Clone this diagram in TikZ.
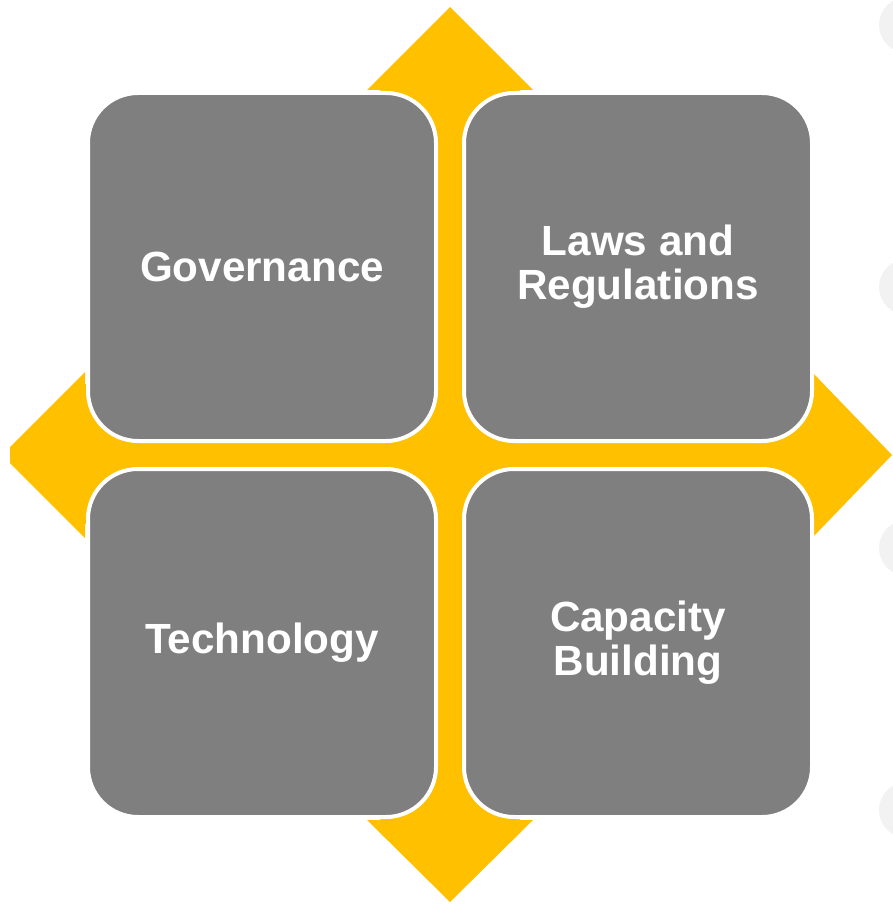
\documentclass[tikz,border=0pt]{standalone}
\usepackage{fontspec}
\setmainfont{Liberation Sans}
\usepackage{tikz}
\usetikzlibrary{positioning}
\definecolor{pillargrey}{HTML}{7F7F7F}
\definecolor{crossyellow}{HTML}{FFC000}
\definecolor{ghostgrey}{HTML}{F2F2F2}
\tikzstyle{pillar} = [rectangle, rounded corners=50pt, minimum width=348pt, minimum height=348pt, fill=pillargrey, draw=white, line width=4pt, text=white, align=center, font=\fontsize{42.2}{44}\selectfont\bfseries]
\tikzstyle{ghost} = [circle, fill=ghostgrey, minimum size=56pt, inner sep=0pt]

\begin{document}
\begin{tikzpicture}[x=1pt, y=-1pt, node distance = 24pt]
	\useasboundingbox (0,0) rectangle (892,904);
	\foreach \gy [count=\gi] in {25,287,548,810}
		\node (ghost\gi) [ghost] at (907,\gy) {};
	\fill[crossyellow] (450,7) -- (533,90) -- (520,90) -- (520,384) -- (812,384) -- (812,372)
		-- (892,455) -- (812,538) -- (812,524) -- (520,524) -- (520,820) -- (533,820)
		-- (450,902) -- (367,820) -- (380,820) -- (380,524) -- (85,524) -- (85,538)
		-- (10,463) -- (10,447) -- (85,372) -- (85,384) -- (380,384) -- (380,90) -- (367,90) -- cycle;
	\node (Governance) [pillar] at (262,267) {Governance};
	\node (Laws) [pillar, right=of Governance] {Laws and\\Regulations};
	\node (Technology) [pillar, below=of Governance] {Technology};
	\node (Capacity) [pillar, below=of Laws] {Capacity\\Building};
\end{tikzpicture}
\end{document}
